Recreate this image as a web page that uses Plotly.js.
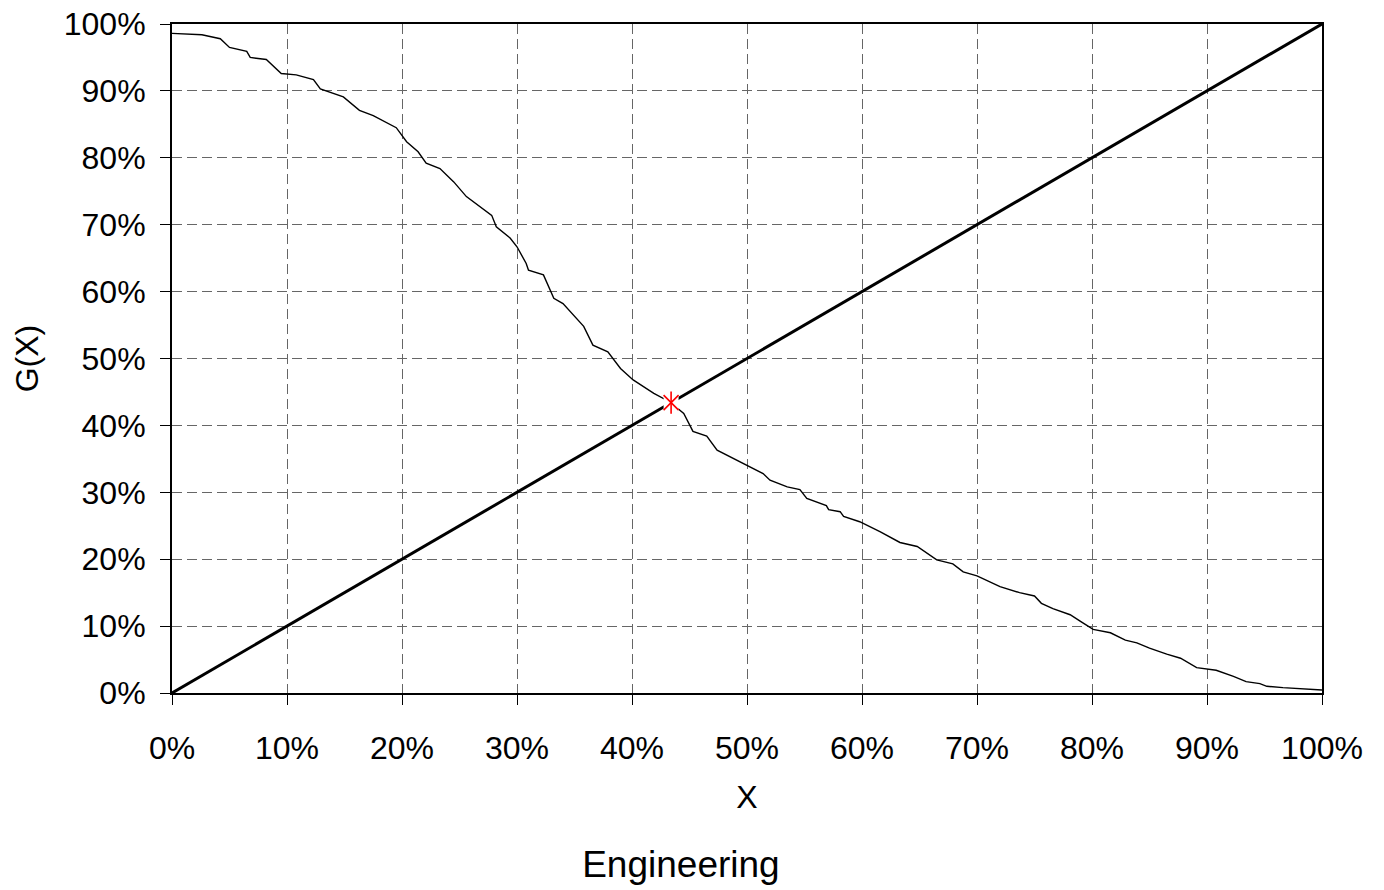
<!DOCTYPE html>
<html>
<head>
<meta charset="utf-8">
<script src="https://cdn.plot.ly/plotly-3.0.1.min.js"></script>
<style>
  html, body { margin: 0; padding: 0; background: #fff; }
  #chart { width: 1384px; height: 890px; }
</style>
</head>
<body>
<div id="chart"></div>
<script>
// Share of population X (%) and G(X) (%) for the Engineering curve
const xShare = [0, 2.6, 4.2, 5.0, 6.5, 6.8, 8.2, 9.5, 10.8, 12.3, 12.9, 14.9, 16.3, 17.5, 19.5,
  20.4, 21.4, 22.1, 23.3, 24.5, 25.6, 26.8, 27.8, 28.2, 29.4, 30.0, 30.8, 31.0, 32.3, 33.2,
  34.0, 35.8, 36.6, 37.9, 39.0, 40.1, 41.9, 43.3, 44.5, 45.3, 46.5, 47.4, 48.2, 50.0, 51.4,
  52.0, 53.5, 54.6, 55.2, 56.9, 57.1, 58.1, 58.4, 59.8, 61.6, 63.3, 64.8, 66.5, 67.9, 68.8,
  70.0, 72.0, 73.7, 75.0, 75.6, 76.6, 78.1, 79.0, 80.1, 81.6, 82.9, 83.9, 85.0, 86.5, 87.7,
  89.1, 90.8, 92.3, 93.4, 94.6, 95.2, 96.6, 98.1, 100];
const gShare = [98.6, 98.4, 97.8, 96.5, 95.9, 95.0, 94.7, 92.6, 92.4, 91.7, 90.3, 89.1, 87.1, 86.3, 84.5,
  82.4, 80.9, 79.2, 78.4, 76.4, 74.2, 72.7, 71.4, 69.7, 68.0, 66.7, 64.2, 63.2, 62.5, 59.0,
  58.2, 54.8, 52.0, 51.0, 48.5, 46.8, 44.8, 43.5, 41.8, 39.1, 38.4, 36.3, 35.6, 34.1, 32.8,
  31.8, 30.8, 30.4, 29.1, 28.0, 27.4, 27.1, 26.4, 25.6, 24.1, 22.5, 21.9, 19.9, 19.3, 18.1,
  17.5, 15.9, 15.0, 14.5, 13.4, 12.6, 11.7, 10.7, 9.5, 9.0, 7.9, 7.5, 6.7, 5.8, 5.2,
  3.8, 3.4, 2.5, 1.7, 1.4, 1.0, 0.8, 0.6, 0.45];

// Reference diagonal G(X) = X
const diagX = [0, 100];
const diagY = [0, 100];

// Crossing point of the curve and the diagonal
const crossX = [43.4];
const crossY = [43.4];

const FONT = '"Liberation Sans", Arial, sans-serif';

const traces = [
  {
    x: xShare, y: gShare, type: 'scatter', mode: 'lines',
    line: { color: '#000', width: 1.4 }, hoverinfo: 'skip'
  },
  {
    x: diagX, y: diagY, type: 'scatter', mode: 'lines',
    line: { color: '#000', width: 3 }, hoverinfo: 'skip'
  },
  {
    x: crossX, y: crossY, type: 'scatter', mode: 'markers',
    marker: { symbol: 'square', size: 15, color: '#fff', line: { width: 0 } }, hoverinfo: 'skip'
  },
  {
    x: crossX, y: crossY, type: 'scatter', mode: 'markers',
    marker: { symbol: 'x-thin-open', size: 15, color: '#ff0000', line: { color: '#ff0000', width: 1.6 } }, hoverinfo: 'skip'
  },
  {
    x: crossX, y: crossY, type: 'scatter', mode: 'markers',
    marker: { symbol: 'line-ns-open', size: 16, color: '#ff0000', line: { color: '#ff0000', width: 1.6 } }, hoverinfo: 'skip'
  }
];

const axisCommon = {
  range: [0, 100], dtick: 10, tick0: 0, ticksuffix: '%',
  showgrid: true, gridcolor: '#666666', gridwidth: 1, griddash: '10px,5px',
  zeroline: false, showline: true, linecolor: '#000', linewidth: 2, mirror: true,
  ticks: 'outside', ticklen: 10, tickwidth: 1, tickcolor: '#000',
  tickfont: { family: FONT, size: 32, color: '#000' },
  fixedrange: true
};

const layout = {
  width: 1384, height: 890,
  margin: { l: 172, r: 62, t: 24, b: 197 },
  paper_bgcolor: '#fff', plot_bgcolor: '#fff',
  showlegend: false,
  font: { family: FONT, color: '#000' },
  title: {
    text: 'Engineering', font: { family: FONT, size: 37, color: '#000' },
    xref: 'container', yref: 'container', x: 0.492, xanchor: 'center',
    y: 0.029, yanchor: 'middle'
  },
  xaxis: Object.assign({}, axisCommon, {
    ticklabelstandoff: 16,
    title: { text: 'X', font: { family: FONT, size: 32, color: '#000' }, standoff: 20 }
  }),
  yaxis: Object.assign({}, axisCommon, {
    ticklabelstandoff: 8,
    title: { text: 'G(X)', font: { family: FONT, size: 32, color: '#000' }, standoff: 16 }
  })
};

Plotly.newPlot('chart', traces, layout, { displayModeBar: false, staticPlot: true });
</script>
</body>
</html>
